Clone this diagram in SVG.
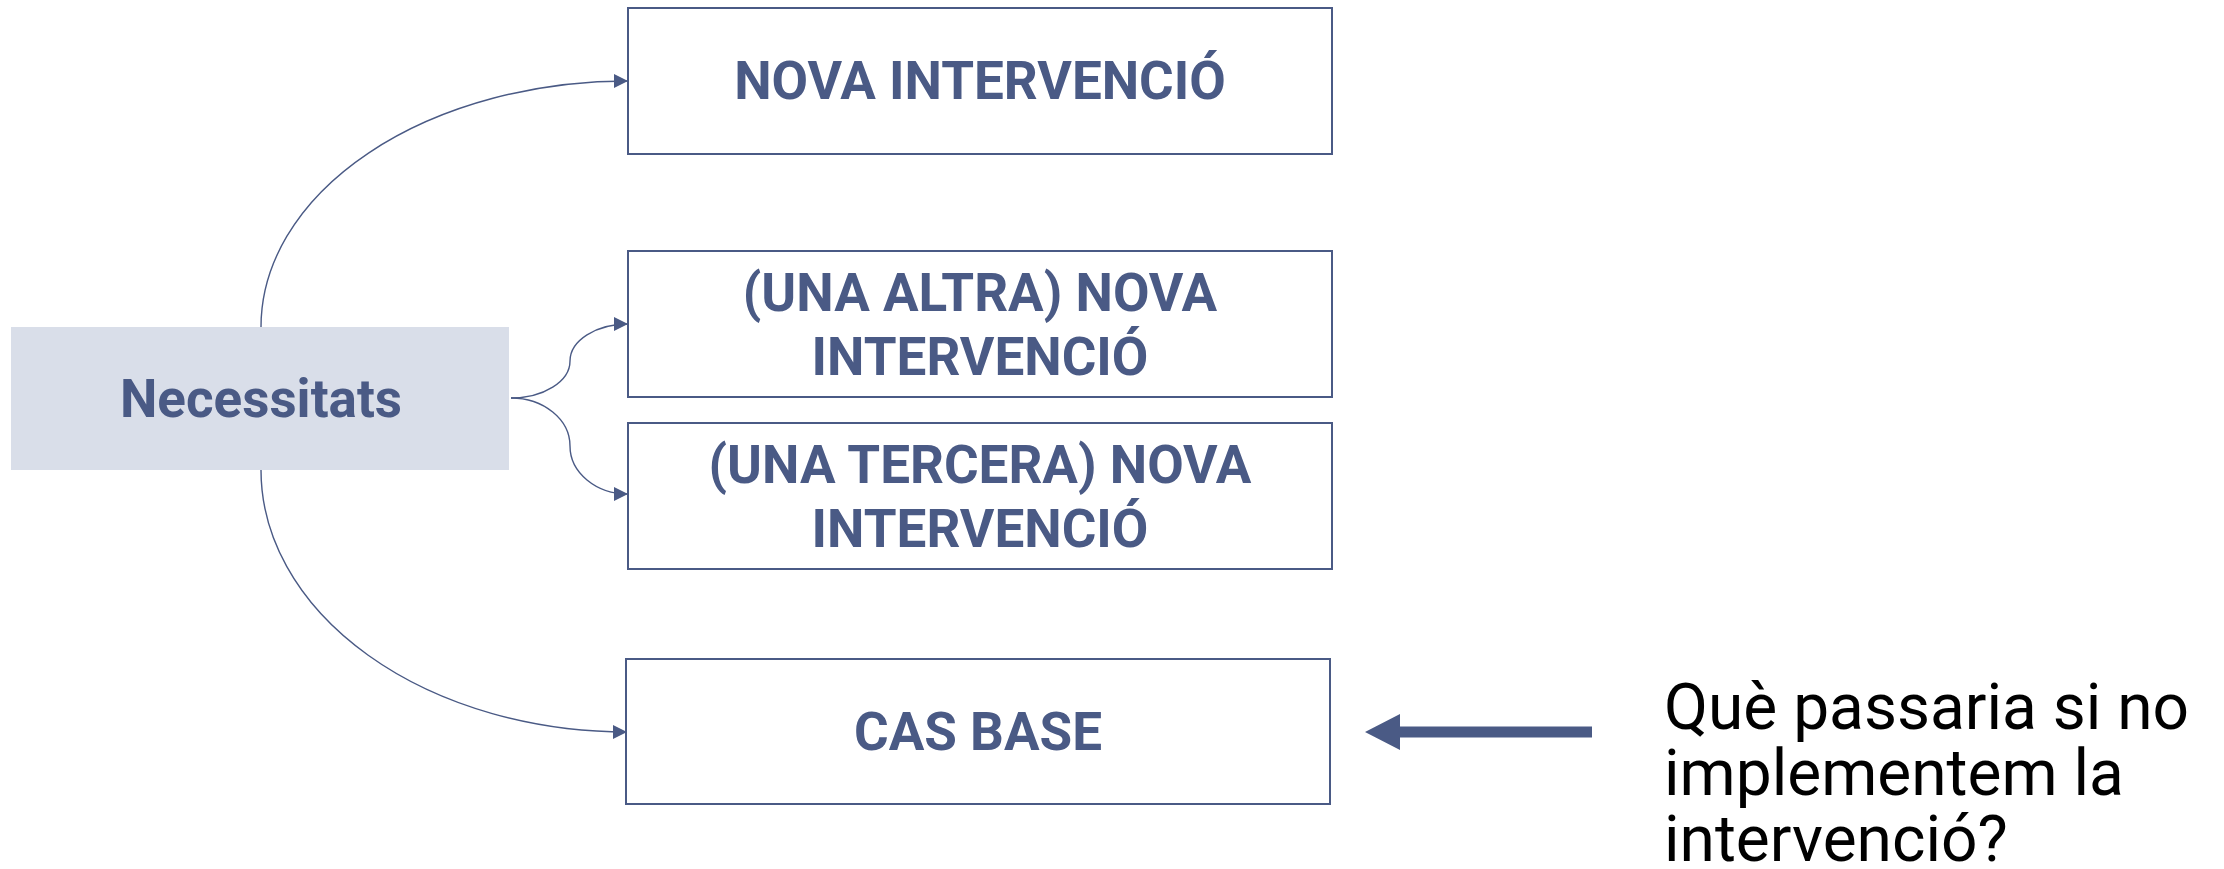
<svg xmlns="http://www.w3.org/2000/svg" width="2224" height="869" viewBox="0 0 2224 869">
<style>
.box{fill:#FFFFFF;stroke:#4A5A85;stroke-width:2}
.lbl{font-family:Roboto,"Liberation Sans",sans-serif;font-weight:bold;font-size:53px;fill:#4A5A85;text-anchor:middle}
.con{fill:none;stroke:#4A5A85;stroke-width:1.4}
.q{font-family:Roboto,"Liberation Sans",sans-serif;font-size:64px;fill:#000000}
</style>
<defs>
<marker id="ah" markerUnits="userSpaceOnUse" markerWidth="16" markerHeight="16" viewBox="0 0 16 16" refX="15" refY="8" orient="auto">
<path d="M1,1 L15,8 L1,15 Z" fill="#4A5A85"/>
</marker>
</defs>
<rect width="2224" height="869" fill="#FFFFFF"/>
<g id="connectors">
<path class="con" d="M261,327 A367,246 0 0 1 628,81" marker-end="url(#ah)"/>
<path class="con" d="M261,470 A366,262 0 0 0 627,732" marker-end="url(#ah)"/>
<path class="con" d="M511,398 A59,37 0 0 0 570,361 A58,37 0 0 1 628,324" marker-end="url(#ah)"/>
<path class="con" d="M511,398 A59,48 0 0 1 570,446 A58,48 0 0 0 628,494" marker-end="url(#ah)"/>
<path d="M1365,732 L1400,714 L1400,726.5 L1592,726.5 L1592,737.5 L1400,737.5 L1400,750 Z" fill="#4A5A85"/>
</g>
<g id="necessitats">
<rect x="11" y="327" width="498" height="143" fill="#D9DEE9"/>
<text class="lbl" x="261" y="417">Necessitats</text>
</g>
<g id="nova">
<rect class="box" x="628" y="8" width="704" height="146"/>
<text class="lbl" x="980" y="99">NOVA INTERVENCIÓ</text>
</g>
<g id="altra">
<rect class="box" x="628" y="251" width="704" height="146"/>
<text class="lbl" x="980" y="311">(UNA ALTRA) NOVA</text>
<text class="lbl" x="980" y="375">INTERVENCIÓ</text>
</g>
<g id="tercera">
<rect class="box" x="628" y="423" width="704" height="146"/>
<text class="lbl" x="980" y="483">(UNA TERCERA) NOVA</text>
<text class="lbl" x="980" y="547">INTERVENCIÓ</text>
</g>
<g id="casbase">
<rect class="box" x="626" y="659" width="704" height="145"/>
<text class="lbl" x="978" y="750">CAS BASE</text>
</g>
<g id="pregunta">
<text class="q" x="1664" y="729">Què passaria si no</text>
<text class="q" x="1664" y="795">implementem la</text>
<text class="q" x="1664" y="861">intervenció?</text>
</g>
</svg>
